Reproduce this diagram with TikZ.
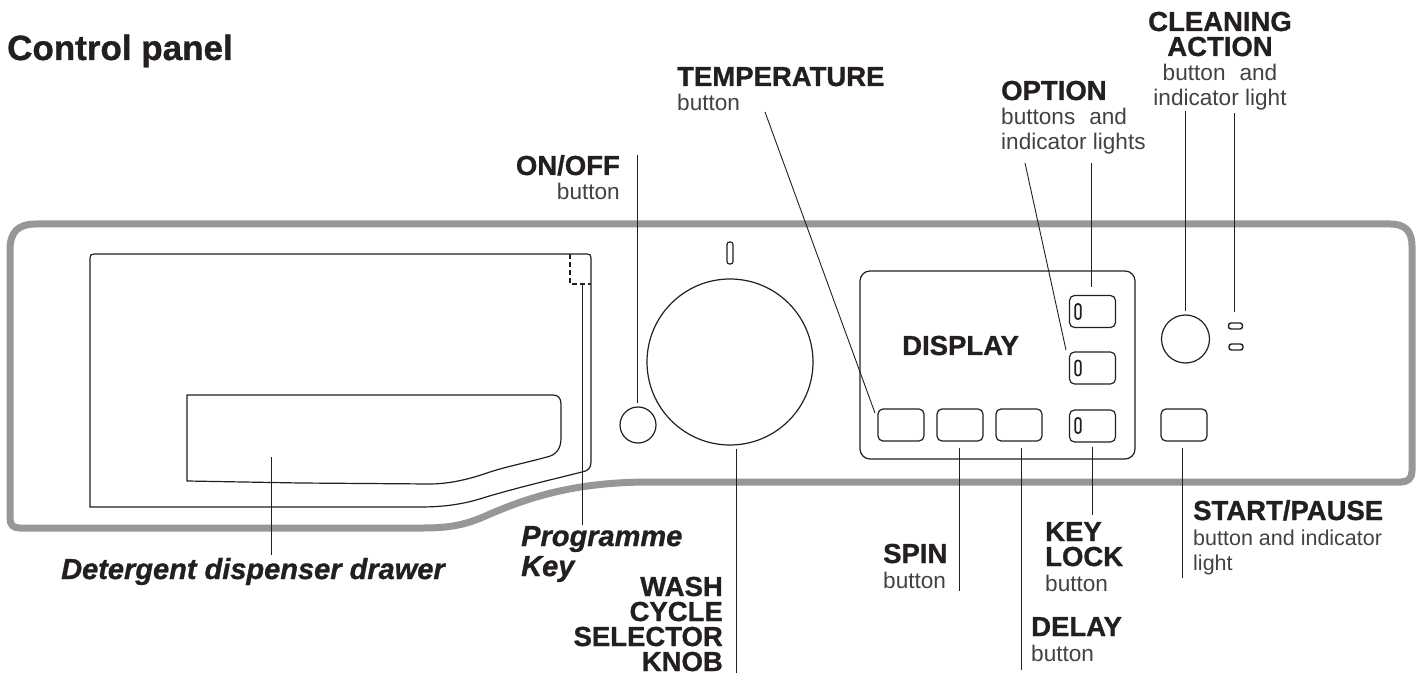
\documentclass[tikz,border=0pt]{standalone}
\usepackage{fontspec}
\setmainfont{Liberation Sans}[BoldFeatures={FakeBold=1},BoldItalicFeatures={FakeBold=1}]
\newcommand{\hd}[1]{{\color{inkblack}\fontsize{27.5}{25}\selectfont\bfseries #1}}
\newcommand{\hdit}[1]{{\fontsize{29}{30}\selectfont\bfseries\itshape #1}}
\newcommand{\wgap}{\hspace{14pt}}
\definecolor{panelgray}{HTML}{9A9696}
\definecolor{inkblack}{HTML}{231F20}
\tikzset{
  lbl/.style={inner sep=0pt,text=inkblack!85,font=\fontsize{22.6}{25}\selectfont},
  leader/.style={draw=inkblack,line width=0.9pt},
  outline/.style={draw=inkblack,line width=1.2pt},
  btn/.style={outline,rounded corners=5pt,minimum width=46pt,minimum height=32pt,inner sep=0pt},
  slot/.style={draw=inkblack,line width=1.7pt,rounded corners=2.5pt,minimum width=5.5pt,minimum height=15pt,inner sep=0pt},
  lamp/.style={draw=inkblack,line width=1.4pt,rounded corners=2.5pt,minimum width=14pt,minimum height=6pt,inner sep=0pt},
}
\begin{document}
\begin{tikzpicture}[x=1pt,y=-1pt]
  \useasboundingbox (0,0) rectangle (1417,676);

  % panel
  \draw[panelgray,line width=7pt]
    (10,518) .. controls (10,525) and (13,528) .. (20,528) -- (424,528)
    .. controls (455,528) and (470,523) .. (490,514)
    .. controls (530,497) and (575,482) .. (650,482) -- (1401,482)
    .. controls (1408,482) and (1412,478) .. (1412,471) -- (1412,246)
    .. controls (1412,231) and (1405,224) .. (1390,224) -- (36,224)
    .. controls (18,224) and (10,232) .. (10,250) -- cycle;

  % drawer
  \draw[outline] (90,507) -- (90,258) .. controls (90,255) and (91,254) .. (94,254) -- (587,254)
    .. controls (590,254) and (591,255) .. (591,258) -- (591,462)
    .. controls (591,468) and (588,471) .. (582,472)
    .. controls (550,480) and (520,487) .. (486,497)
    .. controls (465,504) and (445,507) .. (420,507) -- cycle;
  \draw[outline] (187,395) -- (553,395) .. controls (558,395) and (561,398) .. (561,404) -- (561,438)
    .. controls (561,449) and (556,455) .. (547,457)
    .. controls (525,463) and (505,467) .. (490,472)
    .. controls (470,479) and (450,484) .. (429,484) -- (300,483) -- (187,481) -- cycle;
  \draw[outline,dashed,dash pattern=on 5pt off 3pt] (570,254) -- (570,284) -- (591,284);
  \coordinate (keytop) at (582,284);

  % knob and buttons
  \node[outline,circle,minimum size=36pt,inner sep=0pt] (onoff) at (638,425) {};
  \node[outline,circle,minimum size=166pt,inner sep=0pt] (knob) at (730,362) {};
  \node[outline,rounded corners=2.5pt,minimum width=6pt,minimum height=22pt,inner sep=0pt] (knobmark) at (730,253) {};
  \node[outline,rounded corners=10pt,minimum width=275pt,minimum height=188pt,inner sep=0pt] (display) at (997.5,365) {};
  \node[lbl,anchor=base west] (displaytxt) at (902,355) {\hd{DISPLAY}};

  \node[btn] (tempbtn) at (901,425) {};
  \node[btn] (spinbtn) at (960,425) {};
  \node[btn] (delaybtn) at (1019,425) {};
  \node[btn] (optbtna) at (1092.5,311.5) {};
  \node[btn] (optbtnb) at (1092.5,368) {};
  \node[btn] (lockbtn) at (1092.5,426) {};
  \node[btn] (startbtn) at (1184,425) {};
  \node[slot] (slota) at (1078,311.5) {};
  \node[slot] (slotb) at (1078,368) {};
  \node[slot] (slotc) at (1078,425.5) {};
  \node[outline,circle,minimum size=48pt,inner sep=0pt] (cleanbtn) at (1185.5,339) {};
  \node[lamp] (lampa) at (1235.5,326) {};
  \node[lamp] (lampb) at (1236,347) {};

  % labels
  \node[lbl,anchor=base west] (title) at (7,60) {\color{inkblack}\fontsize{35}{35}\selectfont\bfseries Control panel};
  \node[lbl,anchor=base west,align=left] (templbl) at (677,111) {\hd{TEMPERATURE}\\button};
  \node[lbl,anchor=base east,align=right] (onofflbl) at (620,200) {\hd{ON/OFF}\\button};
  \node[lbl,anchor=base west,align=left] (optlbl) at (1001,150) {\hd{OPTION}\\buttons\wgap and\\indicator lights};
  \node[lbl,anchor=base,align=center] (cleanlbl) at (1220,106) {\hd{CLEANING}\\\hd{ACTION}\\button\wgap and\\indicator light};
  \node[lbl,anchor=base west,align=left,font=\fontsize{21.5}{25}\selectfont] (startlbl) at (1193,570) {\hd{START/PAUSE}\\button and indicator\\light};
  \node[lbl,anchor=base west,align=left] (locklbl) at (1045,591) {\hd{KEY}\\\hd{LOCK}\\button};
  \node[lbl,anchor=base west,align=left] (delaylbl) at (1031,661) {\hd{DELAY}\\button};
  \node[lbl,anchor=base west,align=left] (spinlbl) at (883,588) {\hd{SPIN}\\button};
  \node[lbl,anchor=base east,align=right] (washlbl) at (723,671) {\hd{WASH}\\\hd{CYCLE}\\\hd{SELECTOR}\\\hd{KNOB}};
  \node[lbl,anchor=base west,align=left,text=inkblack,font=\fontsize{29}{30}\selectfont] (keylbl) at (521,576) {\hdit{Programme}\\\hdit{Key}};
  \node[lbl,anchor=base west,text=inkblack] (drawerlbl) at (61,579) {\hdit{Detergent dispenser drawer}};

  % leader ends
  \coordinate (drawertop) at (271,457);
  \coordinate (drawerend) at (271,555);
  \coordinate (keyend) at (582,525);
  \coordinate (onoffend) at (637,155);
  \coordinate (knobend) at (736,673);
  \coordinate (tempend) at (765,112);
  \coordinate (tempstart) at (875,413);
  \coordinate (optenda) at (1091,163);
  \coordinate (optendb) at (1025,163);
  \coordinate (optstartb) at (1066,350);
  \coordinate (cleanend) at (1185,111);
  \coordinate (lampend) at (1234,113);
  \coordinate (spinend) at (959,591);
  \coordinate (delayend) at (1021,670);
  \coordinate (lockend) at (1092,515);
  \coordinate (startend) at (1182,578);

  \draw[leader] (drawertop) -- (drawerend);
  \draw[leader] (keytop) -- (keyend);
  \draw[leader,shorten <=3pt] (onoff.north -| onoffend) -- (onoffend);
  \draw[leader,shorten <=3pt] (knob.south -| knobend) -- (knobend);
  \draw[leader] (tempstart) -- (tempend);
  \draw[leader] (optstartb) -- (optendb);
  \draw[leader,shorten <=8pt] (optbtna.north -| optenda) -- (optenda);
  \draw[leader,shorten <=3pt] (cleanbtn.north -| cleanend) -- (cleanend);
  \draw[leader,shorten <=10pt] (lampa.north -| lampend) -- (lampend);
  \draw[leader,shorten <=6pt] (spinbtn.south -| spinend) -- (spinend);
  \draw[leader,shorten <=6pt] (delaybtn.south -| delayend) -- (delayend);
  \draw[leader,shorten <=4pt] (lockbtn.south -| lockend) -- (lockend);
  \draw[leader,shorten <=6pt] (startbtn.south -| startend) -- (startend);
\end{tikzpicture}
\end{document}
